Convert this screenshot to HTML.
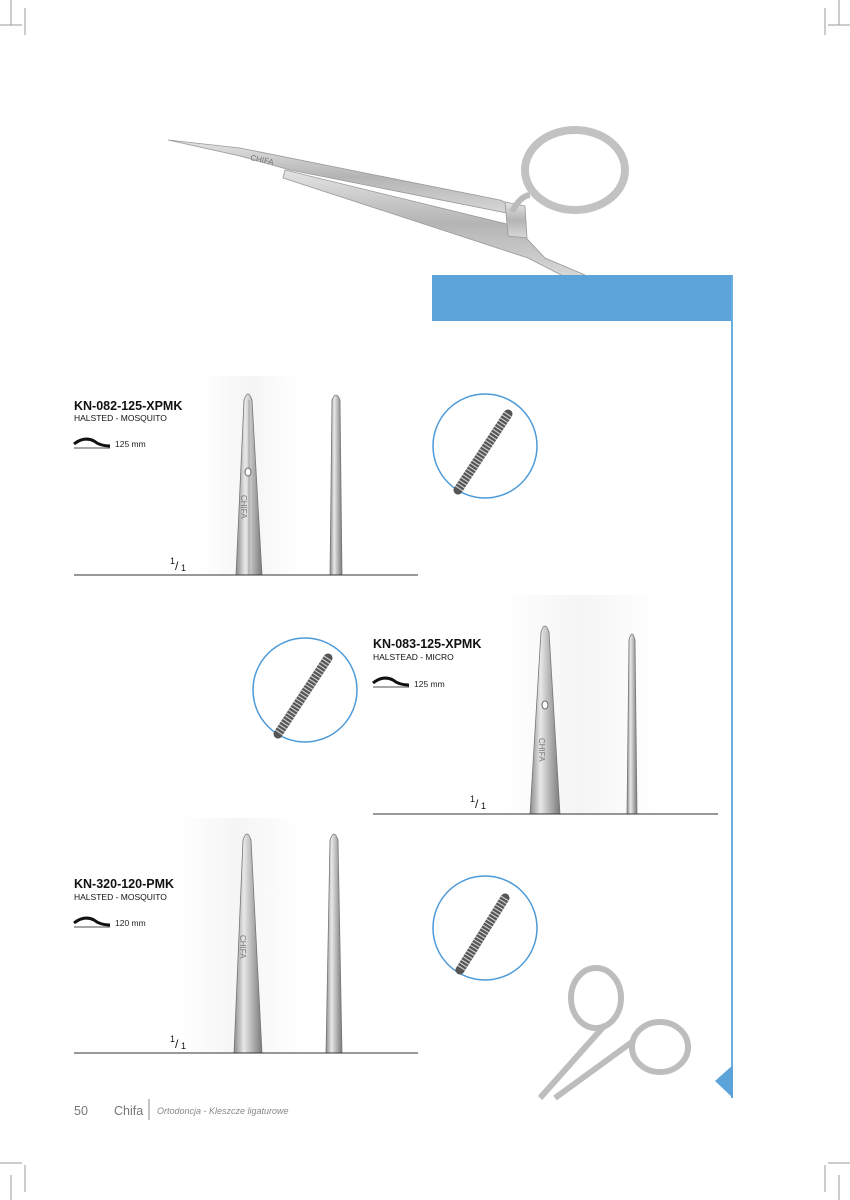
<!DOCTYPE html>
<html><head><meta charset="utf-8"><style>
body{margin:0;background:#fff}
svg{display:block}
text{font-family:"Liberation Sans",sans-serif}
</style></head><body>
<svg width="850" height="1200" viewBox="0 0 850 1200" xmlns="http://www.w3.org/2000/svg">
<defs>
<linearGradient id="m" x1="0" x2="1" y1="0" y2="0"><stop offset="0" stop-color="#8a8a8a"/><stop offset=".35" stop-color="#e8e8e8"/><stop offset=".6" stop-color="#bdbdbd"/><stop offset="1" stop-color="#7a7a7a"/></linearGradient>
<linearGradient id="mv" x1="0" x2="0" y1="0" y2="1"><stop offset="0" stop-color="#e4e4e4"/><stop offset=".5" stop-color="#b4b4b4"/><stop offset="1" stop-color="#d8d8d8"/></linearGradient>
<linearGradient id="bg" x1="0" x2="1"><stop offset="0" stop-color="#fff"/><stop offset=".5" stop-color="#f5f5f5"/><stop offset="1" stop-color="#fff"/></linearGradient>
</defs>
<g stroke="#999" stroke-width="1">
<line x1="11" y1="0" x2="11" y2="25"/><line x1="25" y1="8" x2="25" y2="35"/><line x1="0" y1="25" x2="22" y2="25"/>
<line x1="839" y1="0" x2="839" y2="25"/><line x1="825" y1="8" x2="825" y2="35"/><line x1="828" y1="25" x2="850" y2="25"/>
<line x1="11" y1="1175" x2="11" y2="1200"/><line x1="25" y1="1165" x2="25" y2="1192"/><line x1="0" y1="1163" x2="22" y2="1163"/>
<line x1="839" y1="1175" x2="839" y2="1200"/><line x1="825" y1="1165" x2="825" y2="1192"/><line x1="828" y1="1163" x2="850" y2="1163"/>
</g>
<!-- top instrument -->
<g fill="url(#mv)" stroke="#999" stroke-width=".8">
<path d="M168,140 L240,148 L500,200 L515,206 L512,214 L290,170 L240,156 Z"/>
<path d="M285,170 L515,226 L545,258 L585,275 L565,277 L528,258 L283,178 Z"/>
<path d="M505,202 L525,206 L527,238 L508,236 Z"/>
<path d="M512,212 Q520,196 530,195" fill="none" stroke="#bbb" stroke-width="6"/>
<ellipse cx="575" cy="170" rx="50" ry="40" fill="none" stroke="#c2c2c2" stroke-width="8"/>
</g>
<text x="250" y="160" font-size="8" fill="#777" transform="rotate(12 250 160)">CHIFA</text>
<rect x="432" y="275" width="301" height="46" fill="#5ba3d9"/>
<rect x="731" y="275" width="2" height="823" fill="#6aaee0"/>
<polygon points="733,1065 733,1098 715,1081" fill="#5ba3d9"/>

<!-- product 1 -->
<rect x="200" y="376" width="100" height="199" fill="url(#bg)"/>
<path d="M244,400 Q248,388 252,400 L262,575 L236,575 Z" fill="url(#m)" stroke="#777" stroke-width=".8"/>
<line x1="249" y1="400" x2="249" y2="575" stroke="#888" stroke-width=".6"/>
<ellipse cx="248" cy="472" rx="3" ry="4" fill="#fff" stroke="#666"/>
<text x="241" y="495" font-size="8" fill="#777" transform="rotate(90 241 495)">CHIFA</text>
<path d="M332,400 Q336,390 340,400 L342,575 L330,575 Z" fill="url(#m)" stroke="#777" stroke-width=".8"/>
<line x1="74" y1="575" x2="418" y2="575" stroke="#333" stroke-width="1"/>
<text x="74" y="410" font-size="12.5" fill="#111" font-weight="bold">KN-082-125-XPMK</text>
<text x="74" y="421" font-size="8.5" fill="#111">HALSTED - MOSQUITO</text>
<path d="M74,444 Q84,436 94,441 Q100,446 110,446" fill="none" stroke="#111" stroke-width="3"/>
<line x1="74" y1="448" x2="110" y2="448" stroke="#111" stroke-width=".8"/>
<text x="115" y="447" font-size="8.5" fill="#222">125 mm</text>
<text x="170" y="564" font-size="9" fill="#111">1</text><text x="175" y="570" font-size="12" fill="#111">/</text><text x="181" y="571" font-size="9" fill="#111">1</text>
<circle cx="485" cy="446" r="52" fill="#fff" stroke="#4d9ad8" stroke-width="1.5"/>
<line x1="508" y1="414" x2="458" y2="490" stroke="#555" stroke-width="9" stroke-linecap="round"/>
<line x1="508" y1="414" x2="458" y2="490" stroke="#ccc" stroke-width="9" stroke-dasharray="1.2 2.2"/>

<!-- product 2 -->
<rect x="500" y="595" width="160" height="220" fill="url(#bg)"/>
<path d="M541,632 Q545,620 549,632 L560,814 L530,814 Z" fill="url(#m)" stroke="#777" stroke-width=".8"/>
<ellipse cx="545" cy="705" rx="3" ry="4" fill="#fff" stroke="#666"/>
<text x="539" y="738" font-size="8" fill="#777" transform="rotate(90 539 738)">CHIFA</text>
<path d="M629,640 Q632,628 635,640 L637,814 L627,814 Z" fill="url(#m)" stroke="#777" stroke-width=".8"/>
<line x1="373" y1="814" x2="718" y2="814" stroke="#333" stroke-width="1"/>
<text x="373" y="648" font-size="12.5" fill="#111" font-weight="bold">KN-083-125-XPMK</text>
<text x="373" y="660" font-size="8.5" fill="#111">HALSTEAD - MICRO</text>
<path d="M373,683 Q383,675 393,680 Q399,685 409,685" fill="none" stroke="#111" stroke-width="3"/>
<line x1="373" y1="687" x2="409" y2="687" stroke="#111" stroke-width=".8"/>
<text x="414" y="687" font-size="8.5" fill="#222">125 mm</text>
<text x="470" y="802" font-size="9" fill="#111">1</text><text x="475" y="808" font-size="12" fill="#111">/</text><text x="481" y="809" font-size="9" fill="#111">1</text>
<circle cx="305" cy="690" r="52" fill="#fff" stroke="#4d9ad8" stroke-width="1.5"/>
<line x1="328" y1="658" x2="278" y2="734" stroke="#555" stroke-width="9" stroke-linecap="round"/>
<line x1="328" y1="658" x2="278" y2="734" stroke="#ccc" stroke-width="9" stroke-dasharray="1.2 2.2"/>

<!-- product 3 -->
<rect x="178" y="818" width="122" height="235" fill="url(#bg)"/>
<path d="M243,840 Q247,828 251,840 L262,1053 L234,1053 Z" fill="url(#m)" stroke="#777" stroke-width=".8"/>
<text x="240" y="935" font-size="8" fill="#777" transform="rotate(90 240 935)">CHIFA</text>
<path d="M330,840 Q334,828 338,840 L342,1053 L326,1053 Z" fill="url(#m)" stroke="#777" stroke-width=".8"/>
<line x1="74" y1="1053" x2="418" y2="1053" stroke="#333" stroke-width="1"/>
<text x="74" y="888" font-size="12.5" fill="#111" font-weight="bold">KN-320-120-PMK</text>
<text x="74" y="900" font-size="8.5" fill="#111">HALSTED - MOSQUITO</text>
<path d="M74,923 Q84,915 94,920 Q100,925 110,925" fill="none" stroke="#111" stroke-width="3"/>
<line x1="74" y1="927" x2="110" y2="927" stroke="#111" stroke-width=".8"/>
<text x="115" y="926" font-size="8.5" fill="#222">120 mm</text>
<text x="170" y="1042" font-size="9" fill="#111">1</text><text x="175" y="1048" font-size="12" fill="#111">/</text><text x="181" y="1049" font-size="9" fill="#111">1</text>
<circle cx="485" cy="928" r="52" fill="#fff" stroke="#4d9ad8" stroke-width="1.5"/>
<line x1="505" y1="898" x2="460" y2="970" stroke="#555" stroke-width="9" stroke-linecap="round"/>
<line x1="505" y1="898" x2="460" y2="970" stroke="#ccc" stroke-width="9" stroke-dasharray="1.2 2.2"/>

<g fill="none" stroke="#bdbdbd" stroke-width="6">
<ellipse cx="596" cy="998" rx="25" ry="30"/>
<ellipse cx="660" cy="1047" rx="28" ry="25"/>
<path d="M605,1025 L540,1098"/>
<path d="M632,1042 L555,1098"/>
</g>

<text x="74" y="1115" font-size="12.5" fill="#777">50</text>
<text x="114" y="1115" font-size="12.5" fill="#777">Chifa</text>
<line x1="149" y1="1099" x2="149" y2="1120" stroke="#888"/>
<text x="157" y="1114" font-size="9" font-style="italic" fill="#888">Ortodoncja - Kleszcze ligaturowe</text>
</svg>
</body></html>
